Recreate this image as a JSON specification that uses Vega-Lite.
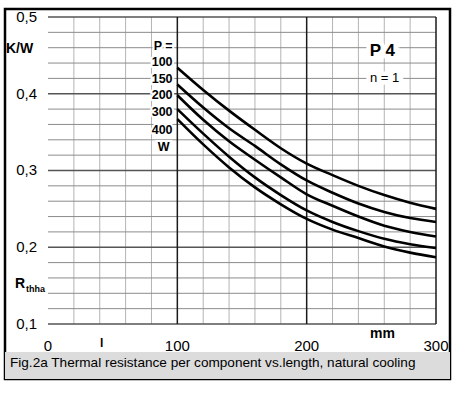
{
  "$schema": "https://vega.github.io/schema/vega-lite/v6.json",
  "width": 445,
  "height": 370,
  "autosize": "none",
  "padding": {"left": 5, "top": 9, "right": 11, "bottom": 14},
  "background": "white",
  "config": {"view": {"stroke": "black", "strokeWidth": 2.5}, "font": "Liberation Sans"},
  "datasets": {
    "curves": [
      {"P": "100", "L": 100, "R": 0.434}, {"P": "100", "L": 120, "R": 0.405}, {"P": "100", "L": 140, "R": 0.378}, {"P": "100", "L": 160, "R": 0.353}, {"P": "100", "L": 180, "R": 0.329}, {"P": "100", "L": 200, "R": 0.309}, {"P": "100", "L": 220, "R": 0.294}, {"P": "100", "L": 240, "R": 0.280}, {"P": "100", "L": 260, "R": 0.268}, {"P": "100", "L": 280, "R": 0.258}, {"P": "100", "L": 300, "R": 0.250},
      {"P": "150", "L": 100, "R": 0.412}, {"P": "150", "L": 120, "R": 0.382}, {"P": "150", "L": 140, "R": 0.355}, {"P": "150", "L": 160, "R": 0.332}, {"P": "150", "L": 180, "R": 0.308}, {"P": "150", "L": 200, "R": 0.287}, {"P": "150", "L": 220, "R": 0.271}, {"P": "150", "L": 240, "R": 0.257}, {"P": "150", "L": 260, "R": 0.246}, {"P": "150", "L": 280, "R": 0.238}, {"P": "150", "L": 300, "R": 0.233},
      {"P": "200", "L": 100, "R": 0.398}, {"P": "200", "L": 120, "R": 0.366}, {"P": "200", "L": 140, "R": 0.338}, {"P": "200", "L": 160, "R": 0.314}, {"P": "200", "L": 180, "R": 0.291}, {"P": "200", "L": 200, "R": 0.269}, {"P": "200", "L": 220, "R": 0.254}, {"P": "200", "L": 240, "R": 0.240}, {"P": "200", "L": 260, "R": 0.228}, {"P": "200", "L": 280, "R": 0.220}, {"P": "200", "L": 300, "R": 0.214},
      {"P": "300", "L": 100, "R": 0.380}, {"P": "300", "L": 120, "R": 0.348}, {"P": "300", "L": 140, "R": 0.318}, {"P": "300", "L": 160, "R": 0.291}, {"P": "300", "L": 180, "R": 0.268}, {"P": "300", "L": 200, "R": 0.248}, {"P": "300", "L": 220, "R": 0.233}, {"P": "300", "L": 240, "R": 0.221}, {"P": "300", "L": 260, "R": 0.211}, {"P": "300", "L": 280, "R": 0.204}, {"P": "300", "L": 300, "R": 0.199},
      {"P": "400", "L": 100, "R": 0.367}, {"P": "400", "L": 120, "R": 0.334}, {"P": "400", "L": 140, "R": 0.304}, {"P": "400", "L": 160, "R": 0.278}, {"P": "400", "L": 180, "R": 0.256}, {"P": "400", "L": 200, "R": 0.237}, {"P": "400", "L": 220, "R": 0.223}, {"P": "400", "L": 240, "R": 0.212}, {"P": "400", "L": 260, "R": 0.201}, {"P": "400", "L": 280, "R": 0.193}, {"P": "400", "L": 300, "R": 0.187}
    ],
    "vminor": [{"L": 20}, {"L": 40}, {"L": 60}, {"L": 80}, {"L": 120}, {"L": 140}, {"L": 160}, {"L": 180}, {"L": 220}, {"L": 240}, {"L": 260}, {"L": 280}],
    "vmajor": [{"L": 100}, {"L": 200}, {"L": 300}],
    "hminor": [{"R": 0.12}, {"R": 0.14}, {"R": 0.16}, {"R": 0.18}, {"R": 0.22}, {"R": 0.24}, {"R": 0.26}, {"R": 0.28}, {"R": 0.32}, {"R": 0.34}, {"R": 0.36}, {"R": 0.38}, {"R": 0.42}, {"R": 0.44}, {"R": 0.46}, {"R": 0.48}],
    "hmajor": [{"R": 0.1}, {"R": 0.2}, {"R": 0.3}, {"R": 0.4}, {"R": 0.5}],
    "xticks": [{"L": 0, "R": 0.0713, "text": "0"}, {"L": 100, "R": 0.0713, "text": "100"}, {"L": 200, "R": 0.0713, "text": "200"}, {"L": 300, "R": 0.0713, "text": "300"}],
    "yticks": [{"L": -8.5, "R": 0.1, "text": "0,1"}, {"L": -8.5, "R": 0.2, "text": "0,2"}, {"L": -8.5, "R": 0.3, "text": "0,3"}, {"L": -8.5, "R": 0.4, "text": "0,4"}, {"L": -8.5, "R": 0.5, "text": "0,5"}],
    "labels": [
      {"grp": "plabel", "text": "P =", "L": 96.3, "R": 0.4622},
      {"grp": "plabel", "text": "100", "L": 96.3, "R": 0.4408},
      {"grp": "plabel", "text": "150", "L": 96.3, "R": 0.4188},
      {"grp": "plabel", "text": "200", "L": 96.3, "R": 0.3990},
      {"grp": "plabel", "text": "300", "L": 96.3, "R": 0.3758},
      {"grp": "plabel", "text": "400", "L": 96.3, "R": 0.3530},
      {"grp": "plabel", "text": "W", "L": 94.0, "R": 0.3310},
      {"grp": "big", "text": "P 4", "L": 258.6, "R": 0.4557},
      {"grp": "n", "text": "n = 1", "L": 260.2, "R": 0.4205},
      {"grp": "unit", "text": "K/W", "L": -32.5, "R": 0.4583},
      {"grp": "unit", "text": "mm", "L": 249.0, "R": 0.0870},
      {"grp": "unit", "text": "R", "L": -25.5, "R": 0.1521},
      {"grp": "sub", "text": "thha", "L": -17.0, "R": 0.1456},
      {"grp": "l", "text": "l", "L": 41.4, "R": 0.0746}
    ],
    "caption": [{"text": "Fig.2a Thermal resistance per component vs.length, natural cooling", "L": -29.4, "R": 0.0440}]
  },
  "layer": [
    {"data": {"name": "caption"}, "mark": {"type": "rect", "color": "#dcdcdc"},
     "encoding": {
       "x": {"datum": -33.25, "type": "quantitative", "scale": {"domain": [-33.25, 310.82], "nice": false, "zero": false}, "axis": null},
       "x2": {"datum": 310.82},
       "y": {"datum": 0.0635, "type": "quantitative", "scale": {"domain": [0.02834, 0.51042], "nice": false, "zero": false}, "axis": null},
       "y2": {"datum": 0.02834}}},
    {"data": {"name": "vminor"}, "mark": {"type": "rule", "color": "#b4b4b4", "strokeWidth": 1},
     "encoding": {
       "x": {"field": "L", "type": "quantitative", "scale": {"domain": [-33.25, 310.82], "nice": false, "zero": false}, "axis": null},
       "y": {"datum": 0.1, "type": "quantitative", "scale": {"domain": [0.02834, 0.51042], "nice": false, "zero": false}, "axis": null},
       "y2": {"datum": 0.5}}},
    {"data": {"name": "hminor"}, "mark": {"type": "rule", "color": "#8c8c8c", "strokeWidth": 1},
     "encoding": {
       "y": {"field": "R", "type": "quantitative", "scale": {"domain": [0.02834, 0.51042], "nice": false, "zero": false}, "axis": null},
       "x": {"datum": 0, "type": "quantitative", "scale": {"domain": [-33.25, 310.82], "nice": false, "zero": false}, "axis": null},
       "x2": {"datum": 300}}},
    {"data": {"name": "hmajor"}, "mark": {"type": "rule", "color": "#555555", "strokeWidth": 1.5},
     "encoding": {
       "y": {"field": "R", "type": "quantitative", "scale": {"domain": [0.02834, 0.51042], "nice": false, "zero": false}, "axis": null},
       "x": {"datum": 0, "type": "quantitative", "scale": {"domain": [-33.25, 310.82], "nice": false, "zero": false}, "axis": null},
       "x2": {"datum": 300}}},
    {"data": {"name": "vmajor"}, "mark": {"type": "rule", "color": "#1a1a1a", "strokeWidth": 1.5},
     "encoding": {
       "x": {"field": "L", "type": "quantitative", "scale": {"domain": [-33.25, 310.82], "nice": false, "zero": false}, "axis": null},
       "y": {"datum": 0.1, "type": "quantitative", "scale": {"domain": [0.02834, 0.51042], "nice": false, "zero": false}, "axis": null},
       "y2": {"datum": 0.5}}},
    {"data": {"name": "curves"}, "mark": {"type": "line", "color": "black", "strokeWidth": 2.6, "interpolate": "monotone"},
     "encoding": {
       "x": {"field": "L", "type": "quantitative", "scale": {"domain": [-33.25, 310.82], "nice": false, "zero": false}, "axis": null},
       "y": {"field": "R", "type": "quantitative", "scale": {"domain": [0.02834, 0.51042], "nice": false, "zero": false}, "axis": null},
       "detail": {"field": "P"}}},
    {"data": {"name": "xticks"}, "mark": {"type": "text", "align": "center", "baseline": "middle", "fontSize": 15, "color": "black"},
     "encoding": {
       "x": {"field": "L", "type": "quantitative", "scale": {"domain": [-33.25, 310.82], "nice": false, "zero": false}, "axis": null},
       "y": {"field": "R", "type": "quantitative", "scale": {"domain": [0.02834, 0.51042], "nice": false, "zero": false}, "axis": null},
       "text": {"field": "text"}}},
    {"data": {"name": "yticks"}, "mark": {"type": "text", "align": "right", "baseline": "middle", "fontSize": 15, "color": "black"},
     "encoding": {
       "x": {"field": "L", "type": "quantitative", "scale": {"domain": [-33.25, 310.82], "nice": false, "zero": false}, "axis": null},
       "y": {"field": "R", "type": "quantitative", "scale": {"domain": [0.02834, 0.51042], "nice": false, "zero": false}, "axis": null},
       "text": {"field": "text"}}},
    {"data": {"name": "labels"},
     "encoding": {
       "x": {"field": "L", "type": "quantitative", "scale": {"domain": [-33.25, 310.82], "nice": false, "zero": false}, "axis": null},
       "y": {"field": "R", "type": "quantitative", "scale": {"domain": [0.02834, 0.51042], "nice": false, "zero": false}, "axis": null},
       "text": {"field": "text"}},
     "layer": [
       {"transform": [{"filter": "datum.grp === 'plabel'"}],
        "mark": {"type": "text", "align": "right", "baseline": "middle", "fontSize": 12.5, "fontWeight": "bold", "color": "white", "stroke": "white", "strokeWidth": 4}},
       {"transform": [{"filter": "datum.grp === 'big'"}],
        "mark": {"type": "text", "align": "center", "baseline": "middle", "fontSize": 17, "fontWeight": "bold", "color": "white", "stroke": "white", "strokeWidth": 9}},
       {"transform": [{"filter": "datum.grp === 'n'"}],
        "mark": {"type": "text", "align": "center", "baseline": "middle", "fontSize": 13, "color": "white", "stroke": "white", "strokeWidth": 9}},
       {"transform": [{"filter": "datum.grp === 'plabel'"}],
        "mark": {"type": "text", "align": "right", "baseline": "middle", "fontSize": 12.5, "fontWeight": "bold", "color": "black"}},
       {"transform": [{"filter": "datum.grp === 'big'"}],
        "mark": {"type": "text", "align": "center", "baseline": "middle", "fontSize": 17, "fontWeight": "bold", "color": "black"}},
       {"transform": [{"filter": "datum.grp === 'n'"}],
        "mark": {"type": "text", "align": "center", "baseline": "middle", "fontSize": 13, "color": "black"}},
       {"transform": [{"filter": "datum.grp === 'unit'"}],
        "mark": {"type": "text", "align": "left", "baseline": "middle", "fontSize": 14, "fontWeight": "bold", "color": "black"}},
       {"transform": [{"filter": "datum.grp === 'sub'"}],
        "mark": {"type": "text", "align": "left", "baseline": "middle", "fontSize": 9, "fontWeight": "bold", "color": "black"}},
       {"transform": [{"filter": "datum.grp === 'l'"}],
        "mark": {"type": "text", "align": "center", "baseline": "middle", "fontSize": 12, "fontWeight": "bold", "color": "black"}}
     ]},
    {"data": {"name": "caption"}, "mark": {"type": "text", "align": "left", "baseline": "alphabetic", "fontSize": 13.6, "color": "black"},
     "encoding": {
       "x": {"field": "L", "type": "quantitative", "scale": {"domain": [-33.25, 310.82], "nice": false, "zero": false}, "axis": null},
       "y": {"field": "R", "type": "quantitative", "scale": {"domain": [0.02834, 0.51042], "nice": false, "zero": false}, "axis": null},
       "text": {"field": "text"}}}
  ]
}
